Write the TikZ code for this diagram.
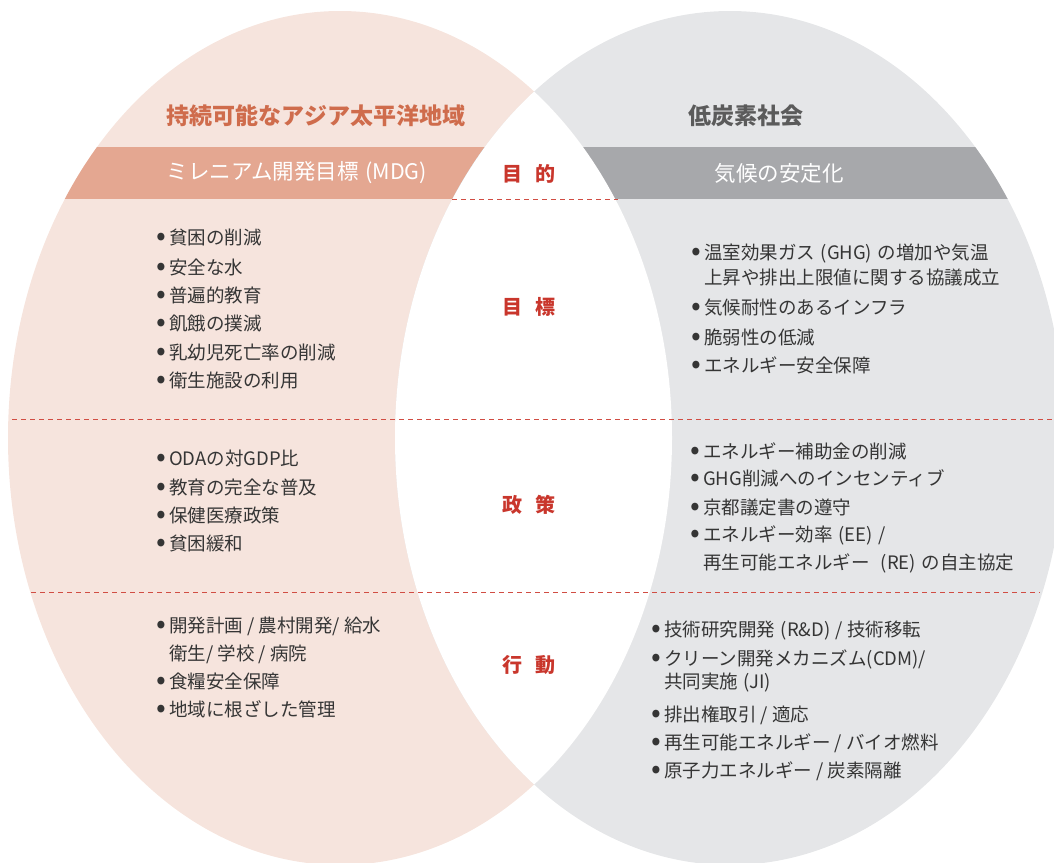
\documentclass[tikz,border=0pt]{standalone}
\usepackage{fontspec}
\setmainfont{Noto Sans CJK JP}
\definecolor{pinkbg}{HTML}{F6E4DD}
\definecolor{graybg}{HTML}{E5E6E8}
\definecolor{pinkband}{HTML}{E4A791}
\definecolor{grayband}{HTML}{A7A8AB}
\definecolor{pinktitle}{HTML}{CF6C4C}
\definecolor{graytitle}{HTML}{5B5B5B}
\definecolor{lblred}{HTML}{C9362C}
\definecolor{dashred}{HTML}{D14D43}
\definecolor{txt}{HTML}{353535}
\newcommand\bu{\llap{\makebox[16pt][c]{\raisebox{-0.09em}{\scalebox{1.55}{•}}}}}
\newcommand\lp{\hspace{0.3em}(}
\newcommand\rp{)\hspace{0.3em}}
\begin{document}
\begin{tikzpicture}[x=1pt,y=-1pt,
  lst/.style={anchor=base west, inner sep=0pt, text=txt, font=\fontsize{18.5}{22}\selectfont},
  ttl/.style={anchor=center, inner sep=0pt, font=\fontsize{23}{27}\selectfont\bfseries},
  bandtxt/.style={anchor=center, inner sep=0pt, text=white, font=\fontsize{21.5}{25}\selectfont},
  lbl/.style={anchor=center, inner sep=0pt, text=lblred, font=\fontsize{20}{24}\selectfont\bfseries},
  dashline/.style={draw=dashred, line width=0.9pt, dash pattern=on 5pt off 4pt}]
\useasboundingbox (0,0) rectangle (1054,862);
\clip (0,0) rectangle (1054,862);
% left ellipse
\fill[pinkbg] (340,438) ellipse [x radius=332pt, y radius=427pt];
\begin{scope}
  \clip (340,438) ellipse [x radius=332pt, y radius=427pt];
  \fill[pinkband] (0,147) rectangle (1054,199);
\end{scope}
% right ellipse
\fill[graybg] (730,438) ellipse [x radius=335pt, y radius=427pt];
\begin{scope}
  \clip (730,438) ellipse [x radius=335pt, y radius=427pt];
  \fill[grayband] (0,147) rectangle (1054,199);
  \clip (340,438) ellipse [x radius=332pt, y radius=427pt];
  \fill[white] (0,0) rectangle (1054,862);
\end{scope}
% dashed separators
\coordinate (d1a) at (452,199); \coordinate (d1b) at (618,199);
\coordinate (d2a) at (12,419);  \coordinate (d2b) at (1054,419);
\coordinate (d3a) at (31,592);  \coordinate (d3b) at (1040,592);
\draw[dashline] (d1a) -- (d1b);
\draw[dashline] (d2a) -- (d2b);
\draw[dashline] (d3a) -- (d3b);
% titles
\node[ttl, text=pinktitle] (tL) at (316,116) {持続可能なアジア太平洋地域};
\node[ttl, text=graytitle] (tR) at (746,116) {低炭素社会};
\node[bandtxt] (bL) at (297,173) {ミレニアム開発目標\lp MDG)};
\node[bandtxt] (bR) at (779,173) {気候の安定化};
% centre labels
\node[lbl] (c1) at (529,174) {目\hspace{0.7em}的};
\node[lbl] (c2) at (529,307) {目\hspace{0.7em}標};
\node[lbl] (c3) at (529,504.5) {政\hspace{0.7em}策};
\node[lbl] (c4) at (529,665) {行\hspace{0.7em}動};
% left list 1
\node[lst] (a1) at (169,244) {\bu 貧困の削減};
\node[lst] (a2) at (169,274) {\bu 安全な水};
\node[lst] (a3) at (169,302) {\bu 普遍的教育};
\node[lst] (a4) at (169,330) {\bu 飢餓の撲滅};
\node[lst] (a5) at (169,359) {\bu 乳幼児死亡率の削減};
\node[lst] (a6) at (169,387) {\bu 衛生施設の利用};
% left list 2
\node[lst] (b1) at (169,465) {\bu ODAの対GDP比};
\node[lst] (b2) at (169,494) {\bu 教育の完全な普及};
\node[lst] (b3) at (169,522) {\bu 保健医療政策};
\node[lst] (b4) at (169,550) {\bu 貧困緩和};
% left list 3
\node[lst] (e1) at (169,632) {\bu 開発計画 / 農村開発/ 給水};
\node[lst] (e2) at (169,660) {衛生/ 学校 / 病院};
\node[lst] (e3) at (169,688) {\bu 食糧安全保障};
\node[lst] (e4) at (169,716) {\bu 地域に根ざした管理};
% right list 1
\node[lst] (r1) at (704,259) {\bu 温室効果ガス\lp GHG\rp の増加や気温};
\node[lst] (r2) at (704,284) {上昇や排出上限値に関する協議成立};
\node[lst] (r3) at (704,314) {\bu 気候耐性のあるインフラ};
\node[lst] (r4) at (704,344) {\bu 脆弱性の低減};
\node[lst] (r5) at (704,372) {\bu エネルギー安全保障};
% right list 2
\node[lst] (s1) at (703,458) {\bu エネルギー補助金の削減};
\node[lst] (s2) at (703,485) {\bu GHG削減へのインセンティブ};
\node[lst] (s3) at (703,514) {\bu 京都議定書の遵守};
\node[lst] (s4) at (703,541) {\bu エネルギー効率\lp EE\rp /};
\node[lst] (s5) at (703,569) {再生可能エネルギー\hspace{0.3em}\lp RE\rp の自主協定};
% right list 3
\node[lst] (u1) at (664,636) {\bu 技術研究開発\lp R\&D\rp / 技術移転};
\node[lst] (u2) at (664,665) {\bu クリーン開発メカニズム(CDM)/};
\node[lst] (u3) at (664,688) {共同実施\lp JI)};
\node[lst] (u4) at (664,721) {\bu 排出権取引 / 適応};
\node[lst] (u5) at (664,749) {\bu 再生可能エネルギー / バイオ燃料};
\node[lst] (u6) at (664,777) {\bu 原子力エネルギー / 炭素隔離};
\end{tikzpicture}
\end{document}
